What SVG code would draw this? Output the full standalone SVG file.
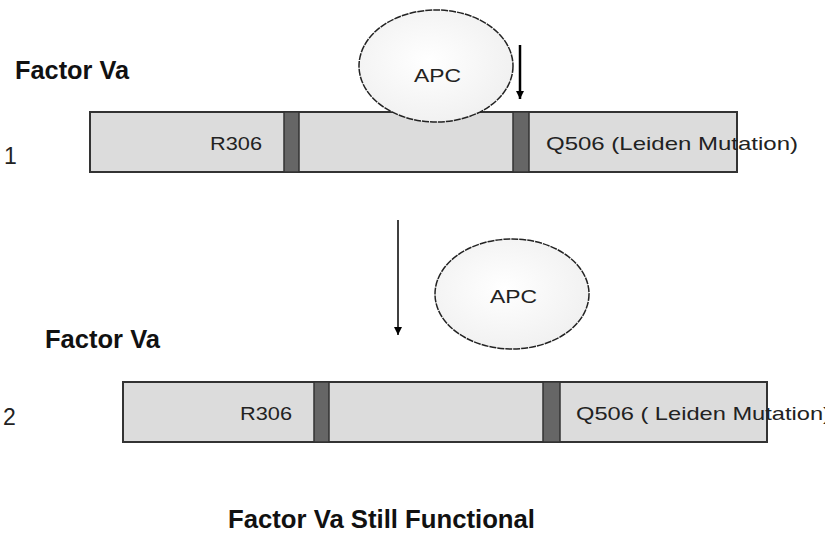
<svg xmlns="http://www.w3.org/2000/svg" width="825" height="534" viewBox="0 0 825 534">
<defs>
<radialGradient id="eg" cx="0.45" cy="0.45" r="0.6">
<stop offset="0" stop-color="#ffffff"/>
<stop offset="1" stop-color="#f0f0f0"/>
</radialGradient>
<marker id="ah" viewBox="0 0 10 10" refX="10" refY="5" markerWidth="8" markerHeight="8" markerUnits="userSpaceOnUse" orient="auto">
<path d="M0,0 L10,5 L0,10 Z" fill="#000"/>
</marker>
<style>
.bar{fill:#dcdcdc;stroke:#333;stroke-width:2}
.band{fill:#666;stroke:#333;stroke-width:1.5}
.ell{fill:url(#eg);stroke:#222;stroke-width:1.5;stroke-dasharray:7 1}
.lbl{font-family:"Liberation Sans",Arial,sans-serif;font-size:19px;fill:#222}
.title{font-family:"Liberation Sans",Arial,sans-serif;font-size:25px;font-weight:bold;fill:#111}
.num{font-family:"Liberation Sans",Arial,sans-serif;font-size:23px;fill:#222}
.arr{stroke:#000;fill:none}
</style>
</defs>
<rect width="825" height="534" fill="#fff"/>

<g id="header1"><text class="title" x="15" y="79" textLength="114" lengthAdjust="spacingAndGlyphs">Factor Va</text></g>
<g id="num1"><text class="num" x="4" y="164">1</text></g>

<g id="bar1">
<rect class="bar" x="90" y="112" width="647" height="60"/>
<rect class="band" x="284" y="112" width="15" height="60"/>
<rect class="band" x="513" y="112" width="16" height="60"/>
<text class="lbl" x="210" y="150" textLength="52" lengthAdjust="spacingAndGlyphs">R306</text>
<text class="lbl" x="546" y="150" textLength="252" lengthAdjust="spacingAndGlyphs">Q506 (Leiden Mutation)</text>
</g>

<g id="apc1">
<ellipse class="ell" cx="436" cy="66" rx="77" ry="56"/>
<text class="lbl" x="414" y="82" textLength="47" lengthAdjust="spacingAndGlyphs">APC</text>
</g>

<g id="header2"><text class="title" x="45" y="348" textLength="115" lengthAdjust="spacingAndGlyphs">Factor Va</text></g>
<g id="num2"><text class="num" x="3" y="425">2</text></g>

<g id="apc2">
<ellipse class="ell" cx="512" cy="294" rx="77" ry="55"/>
<text class="lbl" x="490" y="303" textLength="47" lengthAdjust="spacingAndGlyphs">APC</text>
</g>

<g id="bar2">
<rect class="bar" x="123" y="382" width="644" height="60"/>
<rect class="band" x="314" y="382" width="15" height="60"/>
<rect class="band" x="543" y="382" width="17" height="60"/>
<text class="lbl" x="240" y="420" textLength="52" lengthAdjust="spacingAndGlyphs">R306</text>
<text class="lbl" x="576" y="420" textLength="255" lengthAdjust="spacingAndGlyphs">Q506 ( Leiden Mutation)</text>
</g>

<g id="connectors">
<line class="arr" x1="520" y1="45" x2="520" y2="99" stroke-width="2.5" marker-end="url(#ah)"/>
<line class="arr" x1="398" y1="220" x2="398" y2="335" stroke-width="1.5" marker-end="url(#ah)"/>
</g>

<g id="footer"><text class="title" x="228" y="528" textLength="307" lengthAdjust="spacingAndGlyphs">Factor Va Still Functional</text></g>
</svg>
